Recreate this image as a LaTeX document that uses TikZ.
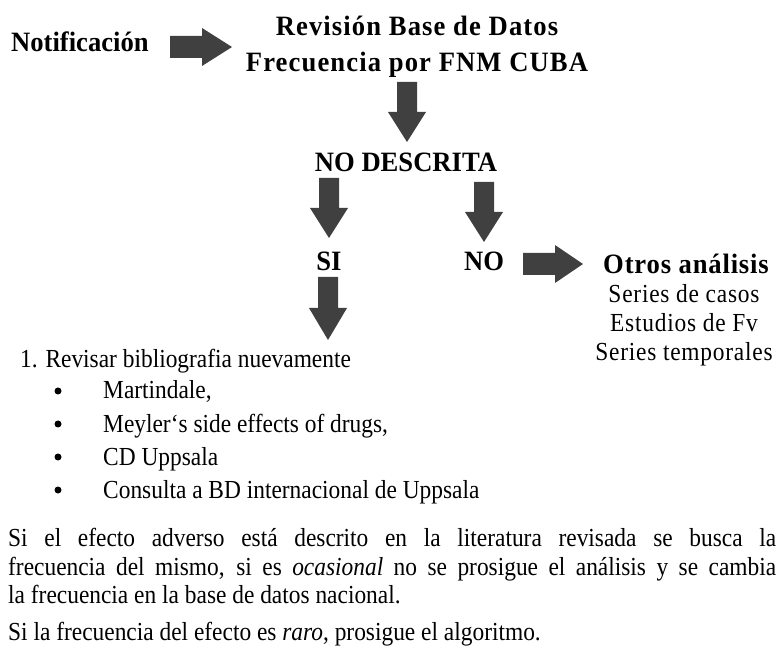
\documentclass[tikz,border=0pt]{standalone}
\usepackage{fontspec}
\setmainfont{Liberation Serif}[FakeStretch=0.9]
\begin{document}
\begin{tikzpicture}[x=1pt,y=-1pt,
  txt/.style={inner sep=0pt,font=\fontsize{26}{30}\selectfont},
  btxt/.style={inner sep=0pt,font=\fontsize{28}{30}\selectfont\bfseries\addfontfeature{FakeStretch=0.95}},
  fatarrow/.style={fill=black!75,draw=none}]
\useasboundingbox (0,0) rectangle (777,652);
\newcommand{\rarrow}[4]{% x1 x2 yc headx
  \fill[fatarrow] (#1,#3-11) -- (#4,#3-11) -- (#4,#3-19) -- (#2,#3) -- (#4,#3+19) -- (#4,#3+11) -- (#1,#3+11) -- cycle;}
\newcommand{\darrow}[4]{% xc y1 y2 heady
  \fill[fatarrow] (#1-10,#2) -- (#1-10,#4) -- (#1-19,#4) -- (#1,#3) -- (#1+19,#4) -- (#1+10,#4) -- (#1+10,#2) -- cycle;}

\node[btxt,anchor=base west] (notif) at (11,52) {Notificación};
\rarrow{170}{232}{47}{202}
\node[btxt,anchor=base] (rev1) at (417,36) {\addfontfeature{LetterSpace=4}Revisión Base de Datos};
\node[btxt,anchor=base] (rev2) at (417,72) {\addfontfeature{LetterSpace=4}Frecuencia por FNM CUBA};
\darrow{407}{82}{142}{112}
\node[btxt,anchor=base] (nodesc) at (406,172) {NO DESCRITA};
\darrow{329}{178}{238}{208}
\darrow{484}{182}{242}{212}
\node[btxt,anchor=base] (si) at (329,271) {SI};
\node[btxt,anchor=base] (no) at (484,271) {NO};
\rarrow{523}{583}{264}{555}
\node[btxt,anchor=base] (otros) at (686,274) {\addfontfeature{LetterSpace=3}Otros análisis};
\node[txt,anchor=base] (o1) at (684,303) {\addfontfeature{LetterSpace=3}Series de casos};
\node[txt,anchor=base] (o2) at (684,332) {\addfontfeature{LetterSpace=3}Estudios de Fv};
\node[txt,anchor=base] (o3) at (684,361) {\addfontfeature{LetterSpace=3}Series temporales};
\darrow{328}{277}{340}{308}
\node[txt,anchor=base west] (l1) at (20,368) {1. Revisar bibliografia nuevamente};
\foreach \t/\y [count=\i] in {{Martindale,}/399,{Meyler‘s side effects of drugs,}/432,{CD Uppsala}/465,{Consulta a BD internacional de Uppsala}/498}{
  \fill (58,\y-8) circle (3.5pt);
  \node[txt,anchor=base west] (b\i) at (103,\y) {\t};
}
\node[txt,anchor=base west] (p1) at (8,546) {\makebox[768pt][s]{Si el efecto adverso está descrito en la literatura revisada se busca la}};
\node[txt,anchor=base west] (p2) at (8,575) {\makebox[768pt][s]{frecuencia del mismo, si es \textit{ocasional} no se prosigue el análisis y se cambia}};
\node[txt,anchor=base west] (p3) at (8,603) {la frecuencia en la base de datos nacional.};
\node[txt,anchor=base west] (p4) at (8,640) {Si la frecuencia del efecto es \textit{raro}, prosigue el algoritmo.};
\end{tikzpicture}
\end{document}
